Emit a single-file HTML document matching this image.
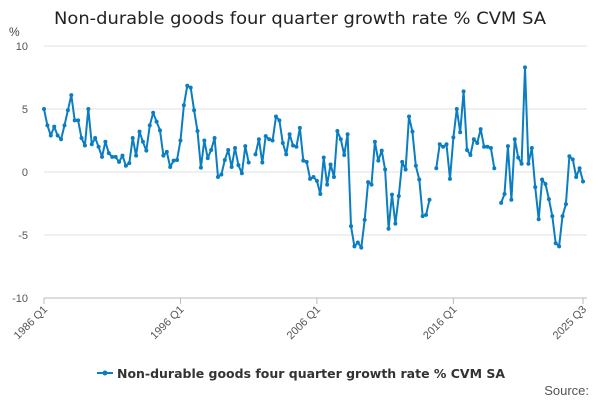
<!DOCTYPE html>
<html><head><meta charset="utf-8"><style>
body{margin:0;background:#fff;font-family:"Liberation Sans",sans-serif}
svg text{font-family:"Liberation Sans",sans-serif}
svg text.dv{font-family:"DejaVu Sans",sans-serif}
</style></head><body>
<svg id="chart" width="600" height="400">
<text class="dv" x="300" y="24" text-anchor="middle" font-size="17" fill="#222" textLength="492" lengthAdjust="spacingAndGlyphs">Non-durable goods four quarter growth rate % CVM SA</text>
<text x="9" y="36" font-size="12" fill="#444">%</text>
<g id="grid"></g><g id="xaxis"></g><g id="series"></g>
<g>
<line x1="97" y1="373" x2="113" y2="373" stroke="#0b7dc1" stroke-width="2"/>
<circle cx="105" cy="373" r="2.5" fill="#0b7dc1"/>
<text class="dv" x="117" y="378" font-size="12.5" font-weight="bold" fill="#333" textLength="388" lengthAdjust="spacingAndGlyphs">Non-durable goods four quarter growth rate % CVM SA</text>
</g>
<text x="589" y="395" text-anchor="end" font-size="13" fill="#555">Source:</text>
</svg>
<script>
const yTicks=[10,5,0,-5,-10];
const xLabelIdx=[0,40,80,120,158];
const xLabels=["1986 Q1","1996 Q1","2006 Q1","2016 Q1","2025 Q3"];
const values=[5.0,3.7,2.9,3.6,2.9,2.6,3.7,4.9,6.1,4.1,4.1,2.7,2.1,5.0,2.2,2.7,2.0,1.2,2.4,1.5,1.2,1.2,0.8,1.3,0.5,0.7,2.7,1.3,3.2,2.4,1.7,3.7,4.7,4.0,3.3,1.3,1.6,0.4,0.9,0.95,2.5,
5.3,6.85,6.7,4.9,3.25,0.35,2.5,1.1,1.75,2.7,-0.4,-0.2,0.95,1.75,0.4,1.9,0.55,-0.1,2.05,0.75,
null,
1.4,2.6,0.75,2.85,2.6,2.5,4.4,4.1,2.3,1.4,3.0,2.1,2.0,3.5,0.9,0.8,-0.55,-0.4,-0.7,-1.75,
1.15,-1.0,0.6,-0.4,3.25,2.6,1.35,3.0,-4.3,-5.9,-5.6,-6.0,-3.8,-0.8,-1.0,2.4,0.9,1.7,0.2,-4.5,-1.8,-4.1,-1.9,0.8,0.2,4.4,3.2,0.5,-0.6,-3.5,-3.4,-2.2,
null,
0.3,2.2,2.0,2.2,-0.55,2.75,5.0,3.15,6.4,1.75,1.35,2.6,2.3,3.4,2.0,2.0,1.9,0.3,
null,
-2.45,-1.75,2.05,-2.2,2.6,1.15,0.65,8.3,0.65,1.9,-1.2,-3.75,-0.6,-0.95,-2.15,-3.5,-5.65,-5.9,-3.5,-2.55,1.25,1.0,-0.4,0.3,-0.75];
const NS="http://www.w3.org/2000/svg";
const X0=44,X1=583,Y0=46,Y1=298;
const n=values.length;
function xs(i){return X0+(X1-X0)*i/(n-1);}
function ys(v){return Y1-(v+10)/20*(Y1-Y0);}
function mk(t,a,p){const e=document.createElementNS(NS,t);for(const k in a)e.setAttribute(k,a[k]);p.appendChild(e);return e;}
const grid=document.getElementById('grid');
yTicks.forEach(t=>{
  const l=mk('line',{x1:X0,x2:587,y1:ys(t),y2:ys(t),stroke:t===-10?'#bbb':'#e2e2e2','stroke-width':1},grid);
  
  
  const tx=mk('text',{x:28,y:ys(t)+4,'text-anchor':'end','font-size':11,fill:'#555'},grid);
  tx.textContent=t;
  
  
});
const xa=document.getElementById('xaxis');
xLabelIdx.forEach((i,k)=>{
  const x=xs(i);
  const tk=mk('line',{x1:x,x2:x,y1:Y1,y2:Y1+6,stroke:'#bbb'},xa);
  
  
  const tx=mk('text',{x:x+4,y:Y1+12,'text-anchor':'end','font-size':11,fill:'#555',transform:`rotate(-45 ${x+4} ${Y1+12})`},xa);
  tx.textContent=xLabels[k];
  
  
});
const sg=document.getElementById('series');
let d='',pen=false;
values.forEach((v,i)=>{
  if(v===null){pen=false;return;}
  d+=(pen?'L':'M')+xs(i).toFixed(1)+' '+ys(v).toFixed(1)+' ';pen=true;
});
const path=mk('path',{d:d,fill:'none',stroke:'#0b7dc1','stroke-width':2,'stroke-linejoin':'round'},sg);


values.forEach((v,i)=>{
  if(v===null)return;
  const c=mk('circle',{cx:xs(i),cy:ys(v),r:2,fill:'#0b7dc1'},sg);
  
  
});
</script>
</body></html>
